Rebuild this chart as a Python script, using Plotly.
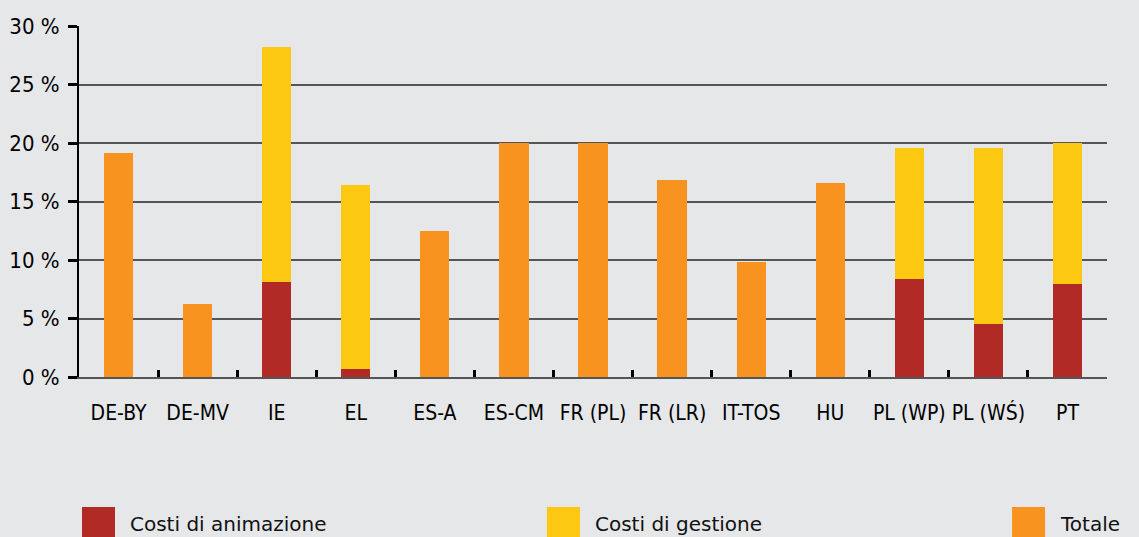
import plotly.graph_objects as go

categories = ["DE-BY", "DE-MV", "IE", "EL", "ES-A", "ES-CM", "FR (PL)", "FR (LR)",
              "IT-TOS", "HU", "PL (WP)", "PL (WŚ)", "PT"]
animazione = [None, None, 8.1, 0.7, None, None, None, None, None, None, 8.4, 4.5, 7.95]
gestione = [None, None, 20.1, 15.75, None, None, None, None, None, None, 11.2, 15.1, 12.05]
totale = [19.15, 6.25, None, None, 12.5, 20.0, 20.0, 16.85, 9.8, 16.6, None, None, None]
yticks = [0, 5, 10, 15, 20, 25, 30]
yticklabels = ["0 %", "5 %", "10 %", "15 %", "20 %", "25 %", "30 %"]

C_RED = "#B22A25"
C_YEL = "#FDC811"
C_ORA = "#F7931E"
BG = "#E6E7E9"
NARROW = "DejaVu Sans Condensed, Liberation Sans Narrow, sans-serif"

fig = go.Figure()
for name, vals, col in [("Costi di animazione", animazione, C_RED),
                        ("Costi di gestione", gestione, C_YEL),
                        ("Totale", totale, C_ORA)]:
    fig.add_trace(go.Bar(x=categories, y=vals, name=name, marker_color=col,
                         marker_line_width=0, width=0.37, showlegend=False))

fig.update_layout(
    barmode="stack",
    width=1139, height=537,
    margin=dict(l=79, r=32, t=26, b=160, autoexpand=False),
    paper_bgcolor=BG, plot_bgcolor=BG,
    font=dict(family=NARROW, size=22, color="#111"),
    xaxis=dict(type="category", range=[-0.5, 12.5], tickson="boundaries",
               ticks="inside", ticklen=7, tickwidth=3, tickcolor="#000",
               showline=True, linecolor="#555", linewidth=1.5, showgrid=False,
               tickangle=0, ticklabelstandoff=16, automargin=False,
               tickfont=dict(family=NARROW, size=21, color="#000")),
    yaxis=dict(range=[0, 30], tickmode="array", tickvals=yticks, ticktext=yticklabels,
               ticks="outside", ticklen=9, tickwidth=3, tickcolor="#000",
               showline=True, linecolor="#000", linewidth=2,
               gridcolor="#555", gridwidth=1.5, zeroline=False, automargin=False,
               tickfont=dict(family=NARROW, size=22, color="#000"), ticklabelstandoff=4),
)

# Legend drawn with swatches and labels
legend_items = [("Costi di animazione", C_RED, 0.0),
                ("Costi di gestione", C_YEL, 0.4523),
                ("Totale", C_ORA, 0.9047)]
px_w = 1139 - 79 - 32
px_h = 537 - 26 - 160
x0 = (82 - 79) / px_w
sw = 33 / px_w
for label, col, off in legend_items:
    fig.add_shape(type="rect", xref="paper", yref="paper",
                  x0=x0 + off, x1=x0 + off + sw,
                  y0=-(537 - 377) / px_h, y1=-(507 - 377) / px_h,
                  fillcolor=col, line_width=0)
    fig.add_annotation(xref="paper", yref="paper", x=x0 + off + sw + 13 / px_w,
                       y=-(524 - 377) / px_h, xanchor="left", yanchor="middle",
                       showarrow=False, text=label,
                       font=dict(family="DejaVu Sans", size=20, color="#111"))

fig.write_html("out.html", config={"displayModeBar": False},
               post_script="document.body.style.margin='0';")
